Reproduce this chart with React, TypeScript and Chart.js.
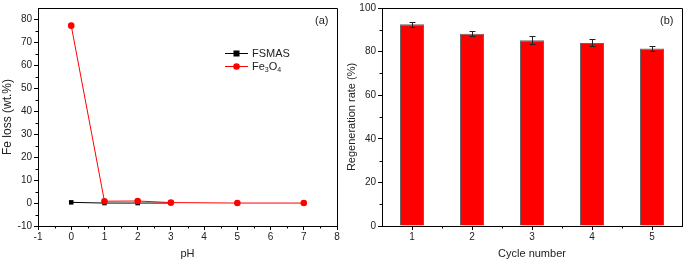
import React, { useEffect, useRef } from "react";
import { Chart, registerables } from "chart.js";
Chart.register(...registerables);

// ---- Data: panel (a) ----
const fsmasPh = [0, 1, 2, 3];
const fsmasLoss = [0.3, 0, 0, 0];
const fe3o4Ph = [0, 1, 2, 3, 5, 7];
const fe3o4Loss = [77.3, 0.8, 0.9, 0.2, 0, 0];
const phTicks = [-1, 0, 1, 2, 3, 4, 5, 6, 7, 8];
const phMinor = [-0.5, 0.5, 1.5, 2.5, 3.5, 4.5, 5.5, 6.5, 7.5];
const lossTicks = [-10, 0, 10, 20, 30, 40, 50, 60, 70, 80];
const lossMinor = [-5, 5, 15, 25, 35, 45, 55, 65, 75];

// ---- Data: panel (b) ----
const cycles = ["1", "2", "3", "4", "5"];
const regenRate = [92.6, 88.2, 85.2, 84.0, 81.4];
const regenErr = [1.1, 1.2, 1.8, 1.6, 1.0];
const rateTicks = [0, 20, 40, 60, 80, 100];
const rateMinor = [10, 30, 50, 70, 90];
const cycleMinor = [0.5, 1.5, 2.5, 3.5];

const FONT = "'Liberation Sans', Arial, sans-serif";
const TXT = "#222";

function framePlugin(minorX: number[], minorY: number[], label: string, labelX: number) {
  return {
    id: "frame",
    afterDraw(chart: any) {
      const ctx = chart.ctx;
      const a = chart.chartArea;
      const xs = chart.scales.x;
      const ys = chart.scales.y;
      ctx.save();
      ctx.strokeStyle = "#000";
      ctx.lineWidth = 1;
      ctx.beginPath();
      ctx.moveTo(a.left, a.top + 0.5);
      ctx.lineTo(a.right + 0.5, a.top + 0.5);
      ctx.lineTo(a.right + 0.5, a.bottom);
      ctx.stroke();
      ctx.beginPath();
      for (const v of minorX) {
        const px = Math.round(xs.getPixelForValue(v)) + 0.5;
        ctx.moveTo(px, a.bottom);
        ctx.lineTo(px, a.bottom + 2.5);
      }
      for (const v of minorY) {
        const py = Math.round(ys.getPixelForValue(v)) + 0.5;
        ctx.moveTo(a.left, py);
        ctx.lineTo(a.left - 2.5, py);
      }
      ctx.stroke();
      ctx.fillStyle = TXT;
      ctx.font = `11px ${FONT}`;
      ctx.textBaseline = "middle";
      ctx.textAlign = "left";
      ctx.fillText(label, labelX, 21);
      ctx.restore();
    },
  };
}

const legendPlugin = {
  id: "customLegend",
  afterDraw(chart: any) {
    const ctx = chart.ctx;
    ctx.save();
    const x0 = 225, x1 = 248, xm = 236.5;
    // FSMAS
    ctx.strokeStyle = "#000";
    ctx.lineWidth = 1;
    ctx.beginPath();
    ctx.moveTo(x0, 53.5);
    ctx.lineTo(x1, 53.5);
    ctx.stroke();
    ctx.fillStyle = "#000";
    ctx.fillRect(xm - 3, 50.5, 6, 6);
    // Fe3O4
    ctx.strokeStyle = "#ff0000";
    ctx.beginPath();
    ctx.moveTo(x0, 66.5);
    ctx.lineTo(x1, 66.5);
    ctx.stroke();
    ctx.fillStyle = "#ff0000";
    ctx.beginPath();
    ctx.arc(xm, 66.5, 3.3, 0, Math.PI * 2);
    ctx.fill();
    ctx.fillStyle = TXT;
    ctx.textBaseline = "middle";
    ctx.textAlign = "left";
    ctx.font = `11px ${FONT}`;
    ctx.fillText("FSMAS", 252, 53.5);
    let x = 252;
    const parts: [string, boolean][] = [["Fe", false], ["3", true], ["O", false], ["4", true]];
    for (const [t, sub] of parts) {
      ctx.font = sub ? `7px ${FONT}` : `11px ${FONT}`;
      ctx.fillText(t, x, sub ? 70 : 66.5);
      x += ctx.measureText(t).width;
    }
    ctx.restore();
  },
};

const errorBarPlugin = {
  id: "errorBars",
  afterDatasetsDraw(chart: any) {
    const ctx = chart.ctx;
    const xs = chart.scales.x;
    const ys = chart.scales.y;
    ctx.save();
    ctx.strokeStyle = "#222";
    ctx.lineWidth = 1;
    ctx.beginPath();
    regenRate.forEach((v, i) => {
      const px = Math.round(xs.getPixelForValue(i)) + 0.5;
      const yt = Math.round(ys.getPixelForValue(v + regenErr[i])) + 0.5;
      const yb = Math.round(ys.getPixelForValue(v - regenErr[i])) + 0.5;
      ctx.moveTo(px, yt);
      ctx.lineTo(px, yb);
      ctx.moveTo(px - 3, yt);
      ctx.lineTo(px + 3, yt);
      ctx.moveTo(px - 3, yb);
      ctx.lineTo(px + 3, yb);
    });
    ctx.stroke();
    ctx.restore();
  },
};

const tickFont = { family: FONT, size: 10 };

function LeftChart() {
  const ref = useRef<HTMLCanvasElement>(null);
  useEffect(() => {
    const chart = new Chart(ref.current!, {
      type: "line",
      data: {
        datasets: [
          {
            label: "Fe3O4",
            data: fe3o4Ph.map((p, i) => ({ x: p, y: fe3o4Loss[i] })),
            borderColor: "#ff0000",
            backgroundColor: "#ff0000",
            borderWidth: 1,
            pointStyle: "circle",
            pointRadius: 3.3,
            pointBorderWidth: 0,
          },
          {
            label: "FSMAS",
            data: fsmasPh.map((p, i) => ({ x: p, y: fsmasLoss[i] })),
            borderColor: "#000",
            backgroundColor: "#000",
            borderWidth: 1,
            pointStyle: "rect",
            pointRadius: 3.2,
            pointBorderWidth: 0,
          },
        ],
      },
      options: {
        animation: false,
        responsive: false,
        maintainAspectRatio: false,
        layout: { padding: { top: 5, right: 8, bottom: 1, left: 0 } },
        plugins: { legend: { display: false }, tooltip: { enabled: false } },
        scales: {
          x: {
            type: "linear",
            min: -1,
            max: 8,
            afterBuildTicks: (s: any) => { s.ticks = phTicks.map((v) => ({ value: v })); },
            afterFit: (s: any) => { s.height = 35; },
            grid: { drawOnChartArea: false, tickLength: 4, color: "#000" },
            border: { color: "#000", width: 1 },
            ticks: { font: tickFont, color: TXT, padding: 1, maxRotation: 0 },
            title: { display: true, text: "pH", font: { family: FONT, size: 11 }, color: TXT, padding: 0 },
          },
          y: {
            type: "linear",
            min: -10,
            max: 85,
            afterBuildTicks: (s: any) => { s.ticks = lossTicks.map((v) => ({ value: v })); },
            afterFit: (s: any) => { s.width = 38; },
            grid: { drawOnChartArea: false, tickLength: 4, color: "#000" },
            border: { color: "#000", width: 1 },
            ticks: { font: tickFont, color: TXT, padding: 2 },
            title: { display: true, text: "Fe loss (wt.%)", font: { family: FONT, size: 12 }, color: TXT, padding: 0 },
          },
        },
      },
      plugins: [framePlugin(phMinor, lossMinor, "(a)", 315), legendPlugin],
    } as any);
    return () => chart.destroy();
  }, []);
  return <canvas ref={ref} width={345} height={262} style={{ position: "absolute", left: 0, top: 0, width: 345, height: 262 }} />;
}

function RightChart() {
  const ref = useRef<HTMLCanvasElement>(null);
  useEffect(() => {
    const chart = new Chart(ref.current!, {
      type: "bar",
      data: {
        labels: cycles,
        datasets: [
          {
            label: "Regeneration rate",
            data: regenRate,
            backgroundColor: "#ff0000",
            borderColor: "#666",
            borderWidth: 1,
            barPercentage: 0.4,
            categoryPercentage: 1,
          },
        ],
      },
      options: {
        animation: false,
        responsive: false,
        maintainAspectRatio: false,
        layout: { padding: { top: 5, right: 3, bottom: 1, left: 0 } },
        plugins: { legend: { display: false }, tooltip: { enabled: false } },
        scales: {
          x: {
            type: "category",
            offset: true,
            afterFit: (s: any) => { s.height = 35; },
            grid: { drawOnChartArea: false, tickLength: 4, color: "#000", offset: false },
            border: { color: "#000", width: 1 },
            ticks: { font: tickFont, color: TXT, padding: 1, maxRotation: 0 },
            title: { display: true, text: "Cycle number", font: { family: FONT, size: 11 }, color: TXT, padding: 0 },
          },
          y: {
            type: "linear",
            min: 0,
            max: 100,
            afterBuildTicks: (s: any) => { s.ticks = rateTicks.map((v) => ({ value: v })); },
            afterFit: (s: any) => { s.width = 37; },
            grid: { drawOnChartArea: false, tickLength: 4, color: "#000" },
            border: { color: "#000", width: 1 },
            ticks: { font: tickFont, color: TXT, padding: 2 },
            title: { display: true, text: "Regeneration rate (%)", font: { family: FONT, size: 11 }, color: TXT, padding: 0 },
          },
        },
      },
      plugins: [framePlugin(cycleMinor, rateMinor, "(b)", 315), errorBarPlugin],
    } as any);
    return () => chart.destroy();
  }, []);
  return <canvas ref={ref} width={340} height={262} style={{ position: "absolute", left: 345, top: 0, width: 340, height: 262 }} />;
}

export default function App() {
  return (
    <div style={{ position: "fixed", left: 0, top: 0, width: 685, height: 262, background: "#fff", overflow: "hidden" }}>
      <LeftChart />
      <RightChart />
    </div>
  );
}
